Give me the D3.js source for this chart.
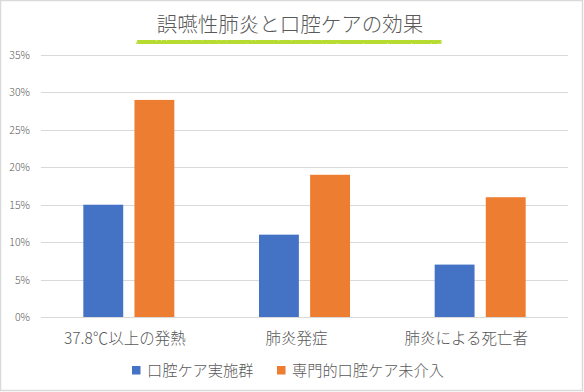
<!DOCTYPE html>
<html><head><meta charset="utf-8">
<script src="https://cdn.jsdelivr.net/npm/d3@7"></script>
<style>
html,body{margin:0;padding:0;background:#fff;}
svg{display:block;}
</style></head>
<body>
<svg id="chart" width="584" height="392"></svg>
<script>
const categories = ["37.8℃以上の発熱", "肺炎発症", "肺炎による死亡者"];
const seriesNames = ["口腔ケア実施群", "専門的口腔ケア未介入"];
const careGroup = [15, 11, 7];
const noCareGroup = [29, 19, 16];
const yTicks = [0, 5, 10, 15, 20, 25, 30, 35];
const colors = ["#4472C4", "#ED7D31"];
const title = "誤嚥性肺炎と口腔ケアの効果";

(function () {
const svg = d3.select("#chart");
const font = "'Noto Sans CJK JP', 'Noto Sans', sans-serif";
const wt = 300;

// border
svg.append("rect").attr("x", 0.5).attr("y", 0.5).attr("width", 582).attr("height", 390)
  .attr("fill", "#fff").attr("stroke", "#d9d9d9").attr("stroke-width", 1.5);

const pLeft = 41, pRight = 568, pTop = 55, pBottom = 317;
const y = d3.scaleLinear().domain([0, 35]).range([pBottom, pTop]);
const x0 = d3.scaleBand().domain(categories).range([pLeft, pRight]).paddingInner(0).paddingOuter(0);
const x1 = d3.scaleBand().domain(seriesNames).range([x0.bandwidth()/2 - 45.5, x0.bandwidth()/2 + 45.5]).paddingInner(0.22).paddingOuter(0);

// gridlines
svg.append("g").selectAll("line").data(yTicks).join("line")
  .attr("x1", pLeft).attr("x2", pRight)
  .attr("y1", d => Math.round(y(d)) + 0.5).attr("y2", d => Math.round(y(d)) + 0.5)
  .attr("stroke", "#d9d9d9").attr("stroke-width", 1);

// y labels
svg.append("g").selectAll("text").data(yTicks).join("text")
  .attr("x", 30).attr("y", d => y(d) + 4)
  .attr("text-anchor", "end").attr("font-family", font).attr("font-weight", wt).attr("font-size", 10.5)
  .attr("fill", "#595959").text(d => d + "%");

// bars
const data = categories.map((c, i) => ({c, vals: [careGroup[i], noCareGroup[i]]}));
const g = svg.append("g").selectAll("g").data(data).join("g")
  .attr("transform", d => `translate(${x0(d.c)},0)`);
g.selectAll("rect").data(d => d.vals.map((v, j) => ({name: seriesNames[j], v, j}))).join("rect")
  .attr("x", d => x1(d.name)).attr("width", x1.bandwidth())
  .attr("y", d => y(d.v)).attr("height", d => y(0) - y(d.v))
  .attr("fill", d => colors[d.j]);

// axis line
svg.append("line").attr("x1", pLeft).attr("x2", pRight).attr("y1", pBottom + 0.5).attr("y2", pBottom + 0.5)
  .attr("stroke", "#d9d9d9");

// category labels
const labelDx = [-4, -8, -14];
svg.append("g").selectAll("text").data(categories).join("text")
  .attr("x", (d, i) => x0(d) + x0.bandwidth()/2 + labelDx[i]).attr("y", 344)
  .attr("text-anchor", "middle").attr("font-family", font).attr("font-weight", wt).attr("font-size", 15.5)
  .attr("fill", "#595959").text(d => d);

// legend
const legendX = [132, 277];
const lg = svg.append("g").selectAll("g").data(seriesNames).join("g")
  .attr("transform", (d, i) => `translate(${legendX[i]},366)`);
lg.append("rect").attr("width", 8.5).attr("height", 8.5).attr("fill", (d, i) => colors[i]);
lg.append("text").attr("x", 15).attr("y", 10).attr("font-family", font).attr("font-weight", wt).attr("font-size", 15.2)
  .attr("fill", "#595959").text(d => d);

// highlighter underline
const defs = svg.append("defs");
const filt = defs.append("filter").attr("id", "rough").attr("x", "-5%").attr("y", "-100%").attr("width", "110%").attr("height", "300%");
filt.append("feTurbulence").attr("type", "fractalNoise").attr("baseFrequency", 1.2).attr("numOctaves", 2).attr("seed", 3).attr("result", "n");
filt.append("feDisplacementMap").attr("in", "SourceGraphic").attr("in2", "n").attr("scale", 3);
svg.append("path")
  .attr("d", "M139,42.5 C200,41.5 260,42.5 320,42 C370,41.5 410,41.5 439,41.8")
  .attr("fill", "none").attr("stroke", "#b6dc32").attr("stroke-width", 5.5).attr("stroke-linecap", "round")
  .attr("filter", "url(#rough)");

// title
svg.append("text").attr("x", 290).attr("y", 32).attr("text-anchor", "middle")
  .attr("font-family", font).attr("font-weight", wt).attr("font-size", 20.5).attr("fill", "#595959").text(title);
})();
</script>
</body></html>
